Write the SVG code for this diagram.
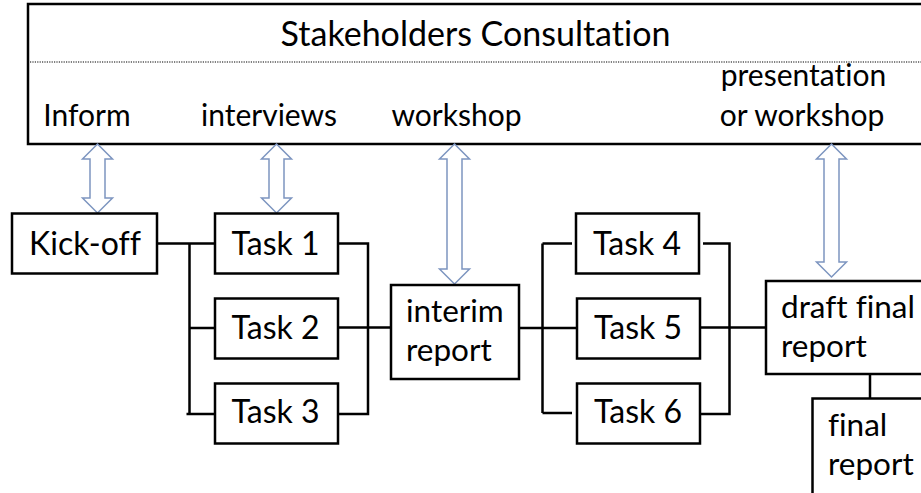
<svg xmlns="http://www.w3.org/2000/svg" width="921" height="493" viewBox="0 0 921 493">
<style>
.box{fill:#fff;stroke:#000;stroke-width:2.5}
.t{font-family:Lato,"Open Sans","Liberation Sans",sans-serif;fill:#000;font-variant-ligatures:none}
.n{font-size:32px;text-anchor:middle}
.l{font-size:31.5px}
.lab{font-size:30px;text-anchor:middle}
.title{font-size:34px;text-anchor:middle}
.c{fill:none;stroke:#000;stroke-width:2.5}
.a{fill:#fff;stroke:#7d95c0;stroke-width:1.5;stroke-linejoin:miter}
</style>
<rect width="921" height="493" fill="#fff"/>
<g id="stakeholders">
<rect class="box" x="28" y="4" width="905" height="140"/>
<line x1="30" y1="62" x2="921" y2="62" stroke="#000" stroke-width="1.2" stroke-dasharray="1.2,1.2"/>
<text class="t title" x="475.5" y="46">Stakeholders Consultation</text>
<text class="t lab" x="87" y="126">Inform</text>
<text class="t lab" x="269" y="126">interviews</text>
<text class="t lab" x="456.5" y="126">workshop</text>
<text class="t lab" x="803.5" y="86">presentation</text>
<text class="t lab" x="802" y="126">or workshop</text>
</g>
<g id="connectors">
<path class="c" d="M157,243.5H189.5M189.5,243.5V414M189.5,243.5H215M189.5,328H215M186.5,414H215"/>
<path class="c" d="M338,243.5H368V414H338M338,327.5H391"/>
<path class="c" d="M519,328H542.5M542.5,243.5V413M542.5,243.5H572M542.5,328H577M542.5,413H572"/>
<path class="c" d="M703,243.5H729.5V414H700M700,327.5H766"/>
<path class="c" d="M870,374V398"/>
<path class="a" d="M97.5,144L112.5,159H105V198H112.5L97.5,213L82.5,198H90V159H82.5Z"/>
<path class="a" d="M276.5,144L291.5,159H284V198H291.5L276.5,213L261.5,198H269V159H261.5Z"/>
<path class="a" d="M454.5,144L469.5,159H462V269H469.5L454.5,284L439.5,269H447V159H439.5Z"/>
<path class="a" d="M831.5,144L846.5,159H839V262H846.5L831.5,277L816.5,262H824V159H816.5Z"/>
</g>
<g id="kickoff">
<rect class="box" x="12" y="213.5" width="145" height="60"/>
<text class="t n" x="85" y="255">Kick-off</text>
</g>
<g id="task1">
<rect class="box" x="215" y="213.5" width="123" height="60"/>
<text class="t n" x="275.5" y="255">Task 1</text>
</g>
<g id="task2">
<rect class="box" x="215" y="298.5" width="123" height="60"/>
<text class="t n" x="275.5" y="339">Task 2</text>
</g>
<g id="task3">
<rect class="box" x="215" y="383.5" width="123" height="60"/>
<text class="t n" x="275.5" y="423">Task 3</text>
</g>
<g id="interim">
<rect class="box" x="391" y="285" width="128" height="94"/>
<text class="t l" x="406" y="322">interim</text>
<text class="t l" x="406" y="361">report</text>
</g>
<g id="task4">
<rect class="box" x="576" y="213.5" width="123" height="60"/>
<text class="t n" x="637" y="255">Task 4</text>
</g>
<g id="task5">
<rect class="box" x="577" y="298.5" width="123" height="60"/>
<text class="t n" x="638" y="339">Task 5</text>
</g>
<g id="task6">
<rect class="box" x="577" y="383.5" width="123" height="60"/>
<text class="t n" x="638" y="423">Task 6</text>
</g>
<g id="draft">
<rect class="box" x="766" y="281" width="170" height="93"/>
<text class="t l" x="781" y="318">draft final</text>
<text class="t l" x="781" y="357">report</text>
</g>
<g id="final">
<rect class="box" x="812.5" y="398.5" width="120" height="110"/>
<text class="t l" x="828" y="436">final</text>
<text class="t l" x="828" y="475">report</text>
</g>
</svg>
